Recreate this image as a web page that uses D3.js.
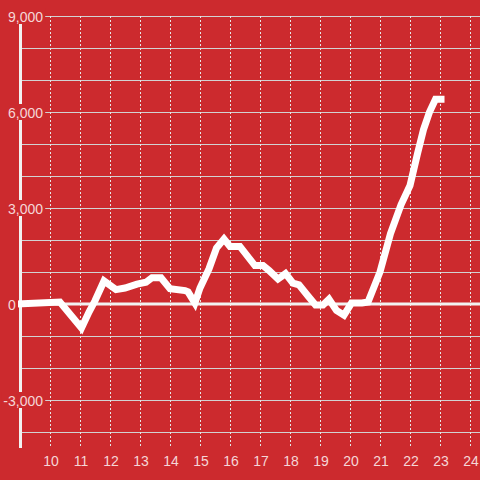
<!DOCTYPE html>
<html><head><meta charset="utf-8">
<script src="https://cdn.jsdelivr.net/npm/d3@7"></script>
<style>html,body{margin:0;padding:0;background:#cc2a2e;}svg{display:block;}</style>
</head><body>
<script>
const xTicks = [10,11,12,13,14,15,16,17,18,19,20,21,22,23,24];
const yGrid = [-4000,-3000,-2000,-1000,1000,2000,3000,4000,5000,6000,7000,8000,9000];
const yLabels = [9000,6000,3000,0,-3000];
const hours = [8.9,10.33,11.05,11.3,11.5,11.8,12.2,12.5,12.9,13.2,13.4,13.7,14.0,14.5,14.6,14.83,15.0,15.3,15.55,15.8,16.0,16.33,16.83,17.1,17.3,17.6,17.85,18.1,18.3,18.6,18.85,19.1,19.3,19.55,19.8,20.05,20.4,20.6,21.0,21.35,21.7,22.0,22.25,22.45,22.65,22.85,23.15];
const values = [0,60,-750,-250,100,720,450,500,620,680,820,820,480,420,380,30,500,1100,1750,2030,1800,1800,1200,1200,1050,780,950,650,600,250,-30,-30,150,-200,-350,30,30,60,1000,2200,3100,3700,4700,5450,6000,6400,6400];

(function(){
const W=480,H=480,bg="#cc2a2e",txt="#f5d6d7";
const svg=d3.select("body").append("svg").attr("width",W).attr("height",H);
svg.append("rect").attr("width",W).attr("height",H).attr("fill",bg);
const x=d3.scaleLinear().domain([10,24]).range([50,470]);
const y=d3.scaleLinear().domain([-4500,9000]).range([448,16]);
const yTop=y(9000), yBot=y(-4500), axisX=x(9)+0.5;

svg.append("g").selectAll("line").data(yGrid).join("line")
  .attr("x1",axisX).attr("x2",W)
  .attr("y1",d=>Math.round(y(d))+0.5).attr("y2",d=>Math.round(y(d))+0.5)
  .attr("stroke","#d2d2d2").attr("stroke-width",1);
svg.append("g").selectAll("line").data(xTicks).join("line")
  .attr("x1",d=>Math.round(x(d))+0.5).attr("x2",d=>Math.round(x(d))+0.5)
  .attr("y1",yTop).attr("y2",yBot)
  .attr("stroke","#e6e6e6").attr("stroke-width",1).attr("stroke-dasharray","2,2");
svg.append("line").attr("x1",8).attr("x2",W).attr("y1",y(0)).attr("y2",y(0))
  .attr("stroke","#f2f2f2").attr("stroke-width",3);
svg.append("line").attr("x1",axisX).attr("x2",axisX).attr("y1",yTop).attr("y2",yBot)
  .attr("stroke","#f2f2f2").attr("stroke-width",3);

const line=d3.line().x((d,i)=>x(hours[i])).y(d=>y(d));
svg.append("path").datum(values).attr("d",line)
  .attr("fill","none").attr("stroke","#ffffff").attr("stroke-width",7)
  .attr("stroke-linejoin","miter").attr("stroke-linecap","butt");

const fmt=d3.format(",");
const yl=svg.append("g").attr("font-family","Liberation Sans, Arial, sans-serif").attr("font-size",14);
yLabels.forEach(v=>{
  const t=yl.append("text").attr("fill",txt).attr("dominant-baseline","central")
    .attr("y",y(v)+0.5).text(v<0?"-"+fmt(-v):fmt(v));
  if(v===0){t.attr("x",8).attr("text-anchor","start");}
  else{t.attr("x",43).attr("text-anchor","end");}
  const b=t.node().getBBox();
  yl.insert("rect","text").attr("x",b.x-2).attr("y",y(v)-8).attr("width",b.width+4).attr("height",16).attr("fill",bg);
});
svg.append("g").selectAll("text").data(xTicks).join("text")
  .attr("x",d=>x(d)+1).attr("y",466).attr("text-anchor","middle")
  .attr("font-family","Liberation Sans, Arial, sans-serif").attr("font-size",14)
  .attr("fill",txt).text(d=>d);
})();
</script>
</body></html>
